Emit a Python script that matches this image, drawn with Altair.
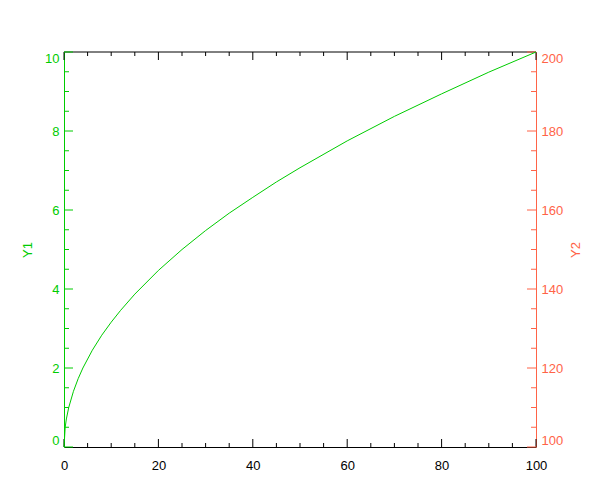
import altair as alt
import pandas as pd

# ---- data ----
line_x = [0, 0.25, 0.5, 1, 2, 3, 4, 6, 8, 10, 12, 15, 20, 25, 30, 35, 40, 45, 50, 60, 70, 80, 90, 100]
line_y = [0, 0.5, 0.71, 1.0, 1.41, 1.73, 2.0, 2.45, 2.83, 3.16, 3.46, 3.87, 4.47, 5.0, 5.48, 5.92,
          6.32, 6.71, 7.07, 7.75, 8.37, 8.94, 9.49, 10.0]

x_major = [0, 20, 40, 60, 80, 100]
x_minor = [5, 10, 15, 25, 30, 35, 45, 50, 55, 65, 70, 75, 85, 90, 95]
y1_major = [0, 2, 4, 6, 8, 10]
y1_minor = [0.5, 1, 1.5, 2.5, 3, 3.5, 4.5, 5, 5.5, 6.5, 7, 7.5, 8.5, 9, 9.5]
y2_major = [100, 120, 140, 160, 180, 200]
y2_minor = [105, 110, 115, 125, 130, 135, 145, 150, 155, 165, 170, 175, 185, 190, 195]

W, H = 472, 395
GREEN = "#00cc00"
RED = "#ff6347"
FONT = "Liberation Sans"
FS = 13

xs = alt.Scale(domain=[0, 100], nice=False, zero=False)
y1s = alt.Scale(domain=[0, 10], nice=False, zero=False)
y2s = alt.Scale(domain=[100, 200], nice=False, zero=False)

line_df = pd.DataFrame({"x": line_x, "y": line_y})

line = alt.Chart(line_df).mark_line(color=GREEN, strokeWidth=1).encode(
    x=alt.X("x:Q", scale=xs, title=None,
            axis=alt.Axis(values=x_major, ticks=False, grid=False, domainColor="black",
                          labelColor="black", labelFont=FONT, labelFontSize=FS,
                          labelPadding=12, labelFlush=False, format="d")),
    y=alt.Y("y:Q", scale=y1s, title="Y1",
            axis=alt.Axis(values=y1_major, ticks=False, grid=False, domainColor=GREEN,
                          labelColor=GREEN, labelFont=FONT, labelFontSize=FS,
                          labelPadding=5, labelFlush=True, format="d",
                          titleColor=GREEN, titleFont=FONT, titleFontSize=FS,
                          titleFontWeight="normal", titleX=-37, titleBaseline="middle",
                          titleAngle=270)),
)


def xticks(vals, length, top):
    df = pd.DataFrame({"v": vals})
    if top:
        yy, yy2 = 0, length
    else:
        yy, yy2 = H, H - length
    return alt.Chart(df).mark_rule(color="black", strokeWidth=1).encode(
        x=alt.X("v:Q", scale=xs, axis=None),
        y=alt.value(yy), y2=alt.value(yy2),
    )


def yticks(vals, scale, length, right, color):
    df = pd.DataFrame({"v": vals})
    if right:
        xx, xx2 = W, W - length
    else:
        xx, xx2 = 0, length
    return alt.Chart(df).mark_rule(color=color, strokeWidth=1).encode(
        y=alt.Y("v:Q", scale=scale, axis=None),
        x=alt.value(xx), x2=alt.value(xx2),
    )


# right axis layer (Y2) carrying the axis itself
y2_df = pd.DataFrame({"v": y2_major})
right_axis = alt.Chart(y2_df).mark_rule(color=RED, strokeWidth=1).encode(
    y=alt.Y("v:Q", scale=y2s, title="Y2",
            axis=alt.Axis(orient="right", values=y2_major, ticks=False, grid=False,
                          domainColor=RED, labelColor=RED, labelFont=FONT, labelFontSize=FS,
                          labelPadding=5, labelFlush=True, format="d",
                          titleColor=RED, titleFont=FONT, titleFontSize=FS,
                          titleFontWeight="normal", titleX=39, titleBaseline="middle",
                          titleAngle=270)),
    x=alt.value(W), x2=alt.value(W - 9),
)

top_border = alt.Chart(pd.DataFrame({"v": [0]})).mark_rule(color="black", strokeWidth=1).encode(
    x=alt.value(0), x2=alt.value(W), y=alt.value(0)
)

chart = alt.layer(
    top_border,
    xticks(x_major, 8, False), xticks(x_minor, 4, False),
    xticks(x_major, 8, True), xticks(x_minor, 4, True),
    yticks(y1_major, y1s, 9, False, GREEN), yticks(y1_minor, y1s, 5, False, GREEN),
    right_axis, yticks(y2_minor, y2s, 5, True, RED),
    line,
).resolve_scale(x="independent", y="independent").properties(
    width=W, height=H,
    autosize=alt.AutoSizeParams(type="none"),
    padding={"left": 56, "top": 44, "right": 50, "bottom": 30},
    background="white",
).configure_view(stroke=None)

chart.save("out.html", embed_options={"renderer": "svg", "actions": False})
